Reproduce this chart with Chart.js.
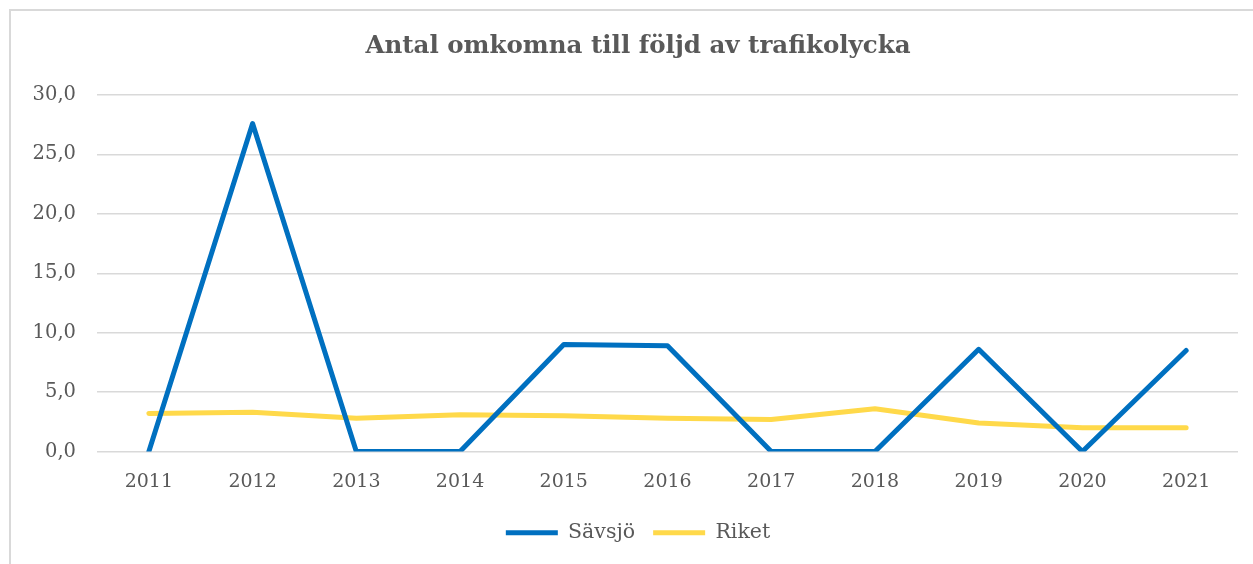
<!DOCTYPE html>
<html>
<head>
<meta charset="utf-8">
<script src="https://cdn.jsdelivr.net/npm/chart.js@4/dist/chart.umd.min.js"></script>
<style>
  html, body { margin: 0; padding: 0; background: #ffffff; overflow: hidden; width: 1253px; height: 564px; }
  #frame { position: absolute; left: 9px; top: 9px; width: 1300px; height: 700px; border: 2px solid #d9d9d9; box-sizing: border-box; }
  #wrap { position: absolute; left: 0; top: 0; width: 1253px; height: 564px; overflow: hidden; }
</style>
</head>
<body>
<div id="frame"></div>
<div id="wrap"><canvas id="c" width="1276" height="564"></canvas></div>
<script>
const titleText = 'Antal omkomna till följd av trafikolycka';
const years = ['2011', '2012', '2013', '2014', '2015', '2016', '2017', '2018', '2019', '2020', '2021'];
const savsjo = [0, 27.6, 0, 0, 9.0, 8.9, 0, 0, 8.6, 0, 8.5];
const riket = [3.2, 3.3, 2.8, 3.1, 3.0, 2.8, 2.7, 3.6, 2.4, 2.0, 2.0];
const seriesNames = ['Sävsjö', 'Riket'];
const yMin = 0, yMax = 30, yStep = 5;

const textColor = '#595959';
const serif = "'DejaVu Serif', 'Liberation Serif', serif";

new Chart(document.getElementById('c'), {
  type: 'line',
  data: {
    labels: years,
    datasets: [
      { label: seriesNames[0], data: savsjo, borderColor: '#0070C0', backgroundColor: '#0070C0',
        borderWidth: 5, pointRadius: 0, pointHoverRadius: 0, tension: 0, borderCapStyle: 'round', borderJoinStyle: 'round' },
      { label: seriesNames[1], data: riket, borderColor: '#FFD94A', backgroundColor: '#FFD94A',
        borderWidth: 5, pointRadius: 0, pointHoverRadius: 0, tension: 0, borderCapStyle: 'round', borderJoinStyle: 'round' }
    ]
  },
  options: {
    responsive: false,
    animation: false,
    events: [],
    layout: { padding: { left: 0, right: 0, top: 0, bottom: 11 } },
    plugins: {
      title: {
        display: true, text: titleText, color: textColor,
        font: { family: serif, size: 24.5, weight: 'bold' },
        padding: { top: 32, bottom: 33.6 }
      },
      legend: {
        position: 'bottom',
        labels: {
          usePointStyle: true, pointStyle: 'line', pointStyleWidth: 52,
          color: textColor, font: { family: serif, size: 20.5 }, padding: 18
        }
      },
      tooltip: { enabled: false }
    },
    scales: {
      x: {
        offset: true,
        grid: { display: false, drawTicks: false },
        border: { display: false },
        ticks: { color: textColor, font: { family: serif, size: 19 }, padding: 19, maxRotation: 0 },
        afterFit: (s) => { s.height = 53; }
      },
      y: {
        min: yMin, max: yMax,
        grid: { color: '#d9d9d9', lineWidth: 1.5, drawTicks: false },
        border: { display: false },
        ticks: {
          stepSize: yStep, color: textColor, font: { family: serif, size: 19.5 }, padding: 21,
          callback: (v) => v.toFixed(1).replace('.', ',')
        },
        afterFit: (s) => { s.width = 97; }
      },
      yR: {
        position: 'right',
        min: yMin, max: yMax,
        grid: { display: false, drawTicks: false },
        border: { display: false },
        ticks: { display: false },
        afterFit: (s) => { s.width = 38; }
      }
    }
  }
});
</script>
</body>
</html>
